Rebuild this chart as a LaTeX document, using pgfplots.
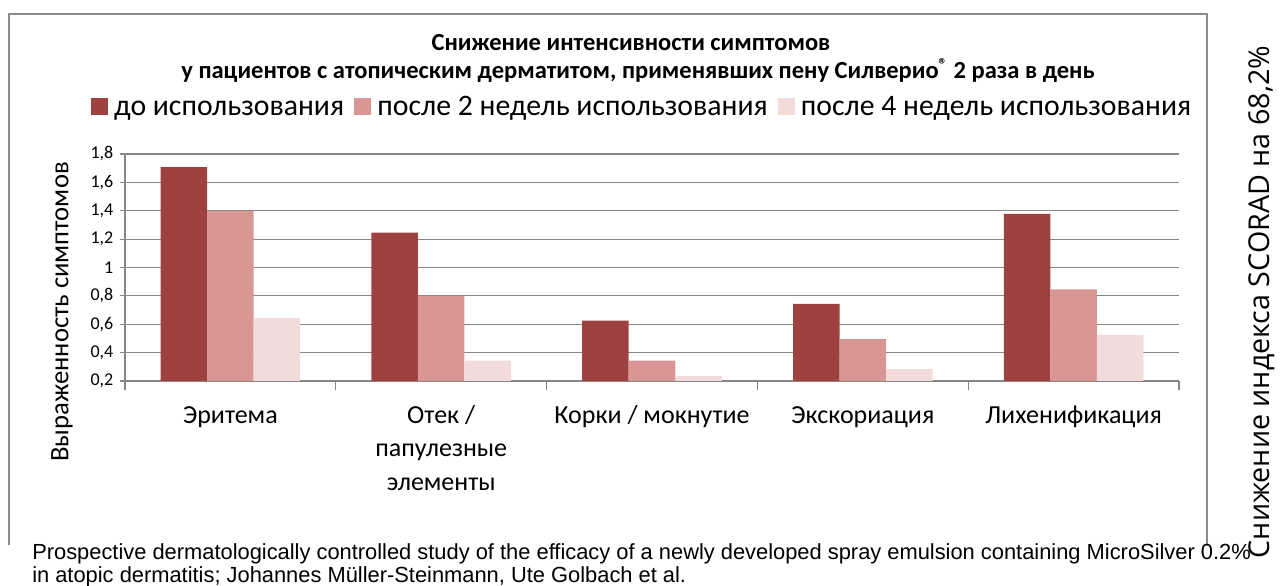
\documentclass[border=0pt]{standalone}
\usepackage{pgfplots}
\pgfplotsset{compat=1.18}
\usepackage{fontspec}
\setmainfont{Carlito}
\newfontfamily\arialfont{Liberation Sans}
\newfontfamily\opensans{Open Sans}
\definecolor{cA}{HTML}{9F4140}
\definecolor{cB}{HTML}{D99694}
\definecolor{cC}{HTML}{F2DCDB}
\definecolor{gridc}{HTML}{868686}
\definecolor{framec}{HTML}{8C8C8C}
\begin{document}
\begin{tikzpicture}
\path[use as bounding box] (0,0) rectangle (960pt,438.75pt);
\draw[framec, line width=1.1pt] (6.75pt,30pt) -- (6.75pt,428.25pt) -- (905.25pt,428.25pt) -- (905.25pt,29pt);
\node[anchor=base, font=\bfseries\fontsize{18.4}{22}\selectfont] at (473.25pt,400.5pt) {Снижение интенсивности симптомов};
\node[anchor=base, font=\bfseries\fontsize{18.4}{22}\selectfont] at (478.5pt,379.5pt) {у пациентов с атопическим дерматитом, применявших пену Силверио\textsuperscript{®} 2 раза в день};
\begin{axis}[
  at={(93.75pt,153pt)}, anchor=south west,
  scale only axis, width=790.5pt, height=170.25pt,
  xmin=-0.5, xmax=4.5, ymin=0.2, ymax=1.8, enlargelimits=false,
  ybar=0pt, bar width=34.9pt,
  axis x line*=bottom, axis y line*=left,
  axis line style={gridc, line width=0.9pt, -},
  ymajorgrids, grid style={gridc, line width=0.9pt},
  ytick={0.2,0.4,0.6,0.8,1,1.2,1.4,1.6,1.8},
  yticklabel style={font=\fontsize{13.5}{15}\selectfont, xshift=-1.5pt, /pgf/number format/use comma, /pgf/number format/fixed, /pgf/number format/precision=1, /pgf/number format/assume math mode=true},
  xtick={0,1,2,3,4},
  xticklabels={\strut Эритема, {\strut Отек /\\папулезные\\элементы}, \strut Корки / мокнутие, \strut Экскориация, \strut Лихенификация},
  xticklabel style={font=\fontsize{19.5}{25}\selectfont, align=center, anchor=north, inner sep=0pt, yshift=-10.5pt},
  major x tick style={draw=none},
  minor xtick={-0.5,0.5,1.5,2.5,3.5,4.5},
  minor x tick style={gridc, line width=0.9pt},
  y tick style={gridc, line width=0.9pt},
  tick align=outside, major tick length=3.75pt, minor tick length=6.5pt,
  ylabel={Выраженность симптомов},
  every axis y label/.style={at={(axis description cs:-0.0598,0.304)}, rotate=90, anchor=center, font=\fontsize{20}{24}\selectfont},
  legend style={at={(axis description cs:0.4924,1.2)}, anchor=center, draw=none, fill=none,
    font=\fontsize{22.3}{27}\selectfont, legend columns=3,
    nodes={inner xsep=4.5pt, inner ysep=0pt, text height=0.7em, text depth=0.25em},
    /tikz/every even column/.append style={column sep=3pt}},
  legend image code/.code={\fill[#1] (0pt,-2pt) rectangle (13pt,10.4pt);},
]
\addplot[fill=cA, draw=none] coordinates {(0,1.708) (1,1.246) (2,0.625) (3,0.744) (4,1.378)};
\addplot[fill=cB, draw=none] coordinates {(0,1.399) (1,0.798) (2,0.343) (3,0.495) (4,0.845)};
\addplot[fill=cC, draw=none] coordinates {(0,0.643) (1,0.343) (2,0.235) (3,0.284) (4,0.525)};
\legend{до использования, после 2 недель использования, после 4 недель использования}
\end{axis}
\node[rotate=90, font=\opensans\fontsize{21.5}{26}\selectfont] at (946.5pt,212.25pt) {Снижение индекса SCORAD на 68,2\%};
\node[anchor=base west, inner sep=0pt, font=\arialfont\fontsize{16.4}{19}\selectfont] at (24pt,19.5pt) {Prospective dermatologically controlled study of the efficacy of a newly developed spray emulsion containing MicroSilver 0.2\%};
\node[anchor=base west, inner sep=0pt, font=\arialfont\fontsize{16.4}{19}\selectfont] at (24pt,2.25pt) {in atopic dermatitis; Johannes Müller-Steinmann, Ute Golbach et al.};
\end{tikzpicture}
\end{document}
